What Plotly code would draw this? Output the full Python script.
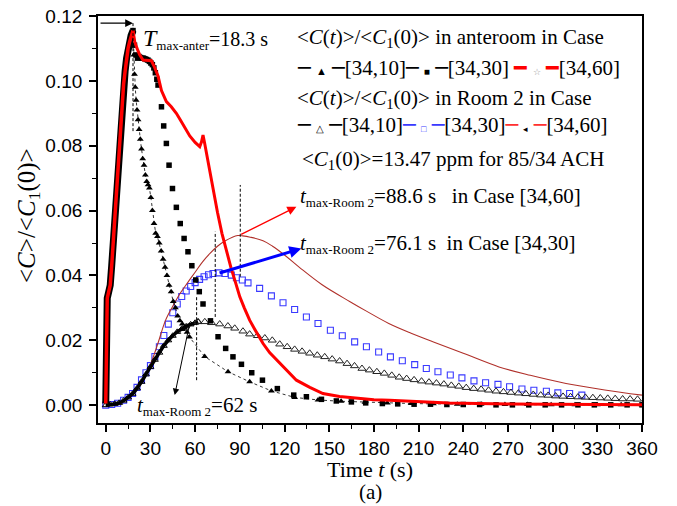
import plotly.graph_objects as go

# ---------------- data ----------------
# common steep rise of the anteroom curves
ante_rise_t = [0, 0.3, 0.6, 1.0, 2.0, 3.0, 4.0, 5.0, 6.0, 7.0, 8.0, 9.0, 10, 11, 12, 13, 14, 15, 16, 17, 18.3]
ante_rise_c = [0.0005, 0.012, 0.028, 0.033, 0.035, 0.037, 0.043, 0.050, 0.058, 0.067, 0.075, 0.082,
               0.088, 0.094, 0.099, 0.103, 0.107, 0.110, 0.112, 0.114, 0.1155]

# anteroom, case [34,10] (filled triangles) after the peak
ante10_t = [18.3, 18.8, 19.3, 19.8, 20.4, 21.0, 21.7, 22.4, 23.2, 24.0, 24.8, 25.7, 26.6, 27.5, 28.4,
            29.3, 30.3, 31.3, 32.4, 33.5, 34.7, 35.9, 37.2, 38.5, 39.8, 41.1, 42.5, 43.9, 45.3, 46.8,
            48.3, 49.8, 51.4, 53.0, 54.6, 56.2, 66.4, 82.1, 96.6, 111.2, 126.8, 142.5, 158, 174, 189,
            205, 220, 236, 252, 268, 283, 299, 315, 330, 346, 360]
ante10_c = [0.1155, 0.108, 0.102, 0.098, 0.094, 0.091, 0.088, 0.085, 0.082, 0.079, 0.076, 0.074, 0.071,
            0.069, 0.068, 0.067, 0.064, 0.060, 0.056, 0.053, 0.052, 0.050, 0.0475, 0.045, 0.0425, 0.040,
            0.037, 0.035, 0.032, 0.030, 0.0275, 0.026, 0.025, 0.0237, 0.0225, 0.021, 0.015, 0.0103,
            0.0072, 0.0044, 0.0024, 0.0016, 0.0012, 0.0009, 0.0007, 0.0005, 0.0004, 0.0003, 0.0003,
            0.0002, 0.0002, 0.0001, 0.0001, 0.0001, 0.0001, 0.0001]

# anteroom, case [34,30] (filled squares) after the peak
ante30_t = [18.3, 19.3, 20.3, 21.3, 22.3, 23.3, 24.3, 25.3, 26.3, 27.3, 28.3, 29.3, 30.3, 31.3, 32.3,
            33.3, 34.3, 35.1, 37.4, 38.9, 40.7, 42.5, 44.8, 47.4, 50.0, 52.6, 55.2, 57.8, 60.4, 62.8,
            65.3, 70.3, 75.4, 80.5, 85.4, 91.1, 98, 105.2, 115.2, 126.2, 134.7, 144.8, 154.8, 164.9,
            174.5, 185.7, 196, 207, 218, 229, 240, 251, 262, 273, 284, 295, 306, 317, 328, 339, 350, 360]
ante30_c = [0.1155, 0.111, 0.108, 0.107, 0.1075, 0.1072, 0.107, 0.107, 0.1068, 0.1066, 0.1064, 0.106,
            0.1055, 0.105, 0.104, 0.1025, 0.1005, 0.0987, 0.092, 0.0861, 0.0807, 0.074, 0.0668, 0.061,
            0.056, 0.0514, 0.0473, 0.043, 0.0386, 0.035, 0.0312, 0.026, 0.0211, 0.0175, 0.0149, 0.0126,
            0.0100, 0.0077, 0.0051, 0.0031, 0.0026, 0.0018, 0.0013, 0.001, 0.0007, 0.0005, 0.0004,
            0.0003, 0.0003, 0.0002, 0.0002, 0.0002, 0.0001, 0.0001, 0.0001, 0.0001, 0.0001, 0.0001,
            0.0001, 0.0001, 0.0001, 0.0001]

# anteroom, case [34,60] (thick red line) after the peak
ante60_t = [18.3, 19.5, 21, 22.8, 25, 27, 29, 30.7, 32.5, 35.1, 37.4, 40.7, 44, 47.4, 50, 53, 56.4, 60,
            63.1, 64.3, 65.3, 66.3, 67.6, 69.8, 72, 75, 78, 81, 84, 87, 90, 93, 96.6, 100, 105.6, 110,
            116.8, 122, 128, 137, 145.8, 157, 168.2, 180, 190.6, 210, 230, 260, 290, 320, 360]
ante60_c = [0.1155, 0.112, 0.110, 0.108, 0.1064, 0.1064, 0.1064, 0.1062, 0.1045, 0.1015, 0.097, 0.0936,
            0.092, 0.090, 0.088, 0.0855, 0.083, 0.081, 0.0797, 0.0812, 0.0833, 0.081, 0.0776, 0.0725,
            0.067, 0.0595, 0.053, 0.0475, 0.0425, 0.038, 0.0334, 0.0300, 0.0262, 0.0234, 0.019, 0.0162,
            0.0129, 0.0105, 0.0077, 0.0055, 0.0036, 0.0027, 0.0021, 0.0017, 0.0015, 0.001, 0.0007,
            0.0004, 0.0003, 0.0002, 0.0001]

# Room 2, case [34,10] (open triangles): dense rise, then sparse decay
room10_rise_t = [0, 3, 6, 9, 12, 15, 18, 21, 24, 27, 30, 33, 36, 39, 42, 45, 48, 51, 54, 57, 60, 62]
room10_rise_c = [0, 0.0002, 0.0004, 0.0007, 0.0014, 0.0024, 0.0035, 0.0052, 0.0072, 0.0095, 0.0118,
                 0.0140, 0.0162, 0.0183, 0.0200, 0.0214, 0.0226, 0.0235, 0.0243, 0.0249, 0.0254, 0.0257]
room10_t = [62, 66.5, 71, 76.5, 82, 86.6, 92.1, 96.6, 101.8, 106.8, 111.8, 116.8, 121.8, 126.8, 131.8,
            136.9, 142, 147, 152, 157, 162, 167, 172, 177, 182, 187, 192, 197, 202, 207, 212, 217, 222,
            227, 232, 237, 242, 247, 252, 257, 262, 267, 272, 277, 282, 287, 292, 297, 302, 307, 312,
            317, 322, 327, 332, 337, 342, 347, 352, 357]
room10_c = [0.0257, 0.0257, 0.0254, 0.025, 0.0244, 0.0237, 0.0228, 0.0219, 0.0214, 0.0207, 0.0200,
            0.0188, 0.0180, 0.0172, 0.0166, 0.0160, 0.0154, 0.0149, 0.0142, 0.0136, 0.0128, 0.0121,
            0.0113, 0.0108, 0.0103, 0.0098, 0.0092, 0.0086, 0.0082, 0.0078, 0.0074, 0.0071, 0.0068,
            0.0065, 0.0061, 0.0058, 0.0054, 0.0051, 0.0049, 0.0046, 0.0043, 0.0041, 0.0039, 0.0037,
            0.0035, 0.0033, 0.0031, 0.0030, 0.0028, 0.0027, 0.0026, 0.0025, 0.0024, 0.0023, 0.0022,
            0.0021, 0.0020, 0.0019, 0.0019, 0.0018]

# Room 2, case [34,30] (open blue squares)
room30_t = [0, 4, 8, 12, 15, 18, 21, 24, 27, 30, 33, 36, 39, 42, 45, 48, 51, 54, 57, 60, 63, 66, 69, 72,
            76, 80, 84.3, 87.7, 91.7, 95.5, 103.3, 111.2, 119, 126.8, 134.7, 142.5, 150.8, 158.8, 167.1,
            175, 183.2, 191.1, 199.1, 207.4, 215.2, 223, 231.3, 239.1, 247.2, 255, 263.3, 271.1, 279.4,
            287.4, 295.8, 303.5, 311.4, 319.6]
room30_c = [0, 0.0002, 0.0006, 0.0015, 0.0024, 0.0036, 0.0055, 0.0078, 0.0100, 0.0122, 0.0150, 0.0180,
            0.0215, 0.0250, 0.0285, 0.0312, 0.0335, 0.0352, 0.0366, 0.0378, 0.0388, 0.0396, 0.0402,
            0.0406, 0.0408, 0.0406, 0.0401, 0.0393, 0.0386, 0.0377, 0.036, 0.0337, 0.0316, 0.0295,
            0.0272, 0.0252, 0.0231, 0.0214, 0.0195, 0.018, 0.0164, 0.0149, 0.0137, 0.0125, 0.0113,
            0.0103, 0.0093, 0.0084, 0.0075, 0.0069, 0.0064, 0.0057, 0.0050, 0.0046, 0.0043, 0.0038,
            0.0036, 0.0031]

# Room 2, case [34,60] (thin dark-red line)
room60_t = [0, 5, 10, 15, 20, 25, 30, 35, 40, 45, 50, 55, 60, 65, 70, 75, 80, 85, 88.6, 92, 97, 105.6,
            112, 120, 130, 145, 164, 175, 190, 205, 220, 240, 264, 285, 309, 335, 360]
room60_c = [0, 0.0002, 0.0007, 0.002, 0.0045, 0.0075, 0.0125, 0.019, 0.026, 0.0305, 0.0345, 0.0378,
            0.041, 0.0442, 0.0468, 0.0490, 0.0506, 0.0518, 0.0523, 0.0522, 0.0518, 0.0507, 0.0490,
            0.0463, 0.0425, 0.0372, 0.0319, 0.0290, 0.0252, 0.0222, 0.0195, 0.0160, 0.0118, 0.0092,
            0.0067, 0.0047, 0.0031]

x_ticks = [0, 30, 60, 90, 120, 150, 180, 210, 240, 270, 300, 330, 360]
y_ticks = [0.00, 0.02, 0.04, 0.06, 0.08, 0.10, 0.12]
y_tick_labels = ["0.00", "0.02", "0.04", "0.06", "0.08", "0.10", "0.12"]

t_peak_ante = 18.3

# ---------------- figure ----------------
W, H = 677, 506
L, R, T, B = 98, 35, 16, 83
PW, PH = W - L - R, H - T - B

def px(x):
    return (x - L) / PW

def py(y):
    return (H - B - y) / PH

SERIF = "Liberation Serif, Times New Roman, serif"
SANS = "Liberation Sans, Arial, sans-serif"
BLUE = "#3a3aff"
DRED = "#b0302a"

fig = go.Figure()

# Room 2 curves (underneath)
fig.add_trace(go.Scatter(x=room30_t, y=room30_c, mode="markers",
                         marker=dict(symbol="square-open", size=6, color=BLUE, line=dict(width=1.1, color=BLUE)),
                         showlegend=False))
fig.add_trace(go.Scatter(x=room60_t, y=room60_c, mode="lines", line=dict(color=DRED, width=1.1, shape="spline"),
                         showlegend=False))
fig.add_trace(go.Scatter(x=room10_rise_t, y=room10_rise_c, mode="lines+markers",
                         line=dict(color="black", width=3.5, shape="spline"),
                         marker=dict(symbol="triangle-up-open", size=6, color="black", line=dict(width=1)),
                         showlegend=False))
fig.add_trace(go.Scatter(x=room10_t, y=room10_c, mode="markers",
                         marker=dict(symbol="triangle-up-open", size=7, color="#222", line=dict(width=1)),
                         showlegend=False))

# anteroom curves
fig.add_trace(go.Scatter(x=ante_rise_t, y=ante_rise_c, mode="lines", line=dict(color="black", width=7),
                         showlegend=False))
fig.add_trace(go.Scatter(x=ante10_t, y=ante10_c, mode="lines+markers",
                         line=dict(color="black", width=0.8, dash="dot"),
                         marker=dict(symbol="triangle-up", size=6, color="black"),
                         showlegend=False))
fig.add_trace(go.Scatter(x=ante30_t, y=ante30_c, mode="markers",
                         marker=dict(symbol="square", size=5.5, color="black"),
                         showlegend=False))
fig.add_trace(go.Scatter(x=ante_rise_t, y=ante_rise_c, mode="lines", line=dict(color="#ff0000", width=3.5),
                         showlegend=False))
fig.add_trace(go.Scatter(x=ante60_t, y=ante60_c, mode="lines", line=dict(color="#ff0000", width=3),
                         showlegend=False))

# dashed guide lines
dash = dict(color="black", width=1, dash="3px,2px")
shapes = [
    dict(type="line", xref="x", yref="y", x0=t_peak_ante, x1=t_peak_ante, y0=0.0845, y1=0.1178, line=dash),
    dict(type="line", xref="x", yref="y", x0=61, x1=61, y0=0.0077, y1=0.0339, line=dash),
    dict(type="line", xref="x", yref="y", x0=73.5, x1=73.5, y0=0.0272, y1=0.0535, line=dash),
    dict(type="line", xref="x", yref="y", x0=90.3, x1=90.3, y0=0.0396, y1=0.0679, line=dash),
]

ann = []

def arrow(x0, y0, x1, y1, color, width, head=2, size=1.0):
    ann.append(dict(x=x1, y=y1, ax=x0, ay=y0, xref="x", yref="y", axref="x", ayref="y", text="",
                    showarrow=True, arrowhead=head, arrowsize=size, arrowwidth=width, arrowcolor=color))

arrow(-4.5, 0.1178, t_peak_ante, 0.1178, "black", 1.2, head=2, size=1.3)
arrow(89.9, 0.0524, 128, 0.0612, "#ff0000", 1.4, head=2, size=1.3)
arrow(75.4, 0.0406, 131.3, 0.0483, "#0000ff", 3, head=2, size=0.8)
arrow(56.4, 0.0253, 46.3, 0.0031, "black", 1, head=2, size=1.3)

def text(x, y, s, size=20, anchor="left", yanchor="middle", angle=0, family=SERIF):
    ann.append(dict(x=px(x), y=py(y), xref="paper", yref="paper", text=s, showarrow=False,
                    xanchor=anchor, yanchor=yanchor, textangle=angle,
                    font=dict(family=family, size=size, color="black")))

def col(s, c, fs=None):
    st = "color:%s" % c + (";font-size:%dpx" % fs if fs else "")
    return '<span style="%s">%s</span>' % (st, s)

D = '<span style="font-family:DejaVu Sans">─</span>'
DB = col('─', BLUE).replace('color:', 'font-family:DejaVu Sans;color:')
DR = col('─', '#ff3030').replace('color:', 'font-family:DejaVu Sans;color:')
S = '&nbsp;'

# legend block
text(295, 38, "&lt;<i>C</i>(<i>t</i>)&gt;/&lt;<i>C</i><sub>1</sub>(0)&gt; in anteroom in Case", size=21)
text(295, 68, D + S + '<span style="font-size:11px">▲</span>' + S + D + '[34,10]' + D +
              S + '<span style="font-size:10px">■</span>' + S + D + '[34,30] ' +
              col('━', '#ff0000') + S + col('☆', '#999999', 9) + S + col('━', '#ff0000') + '[34,60]',
     size=21)
text(295, 99, "&lt;<i>C</i>(<i>t</i>)&gt;/&lt;<i>C</i><sub>1</sub>(0)&gt; in Room 2 in Case", size=21)
text(295, 125, D + S + '<span style="font-size:10px">△</span>' + S + D + '[34,10]' +
               DB + S + col('□', BLUE, 9) + S + DB + '[34,30]' +
               DR + S + col('◂', 'black', 9) + S + DR + '[34,60]',
     size=21)
text(300, 160, "&lt;<i>C</i><sub>1</sub>(0)&gt;=13.47 ppm for 85/34 ACH", size=21)

SUB = '<sub><span style="font-size:13px">%s</span></sub>'
# peak labels
text(141, 39, '<span style="font-size:24px"><i>T</i></span>' + SUB % 'max-anter' + '=18.3 s', size=20)
text(298, 197, "<i>t</i>" + SUB % "max-Room 2" + "=88.6 s&nbsp;&nbsp; in Case [34,60]", size=21)
text(298, 244, "<i>t</i>" + SUB % "max-Room 2" + "=76.1 s&nbsp; in Case [34,30]", size=21)
text(135, 406, "<i>t</i>" + SUB % "max-Room 2" + "=62 s", size=21)

# axis titles and caption
text(370, 469, "Time <i>t</i> (s)", size=22, anchor="center")
text(370, 492, "(a)", size=21, anchor="center")
text(29, 216, "&lt;<i>C</i>&gt;/&lt;<i>C</i><sub>1</sub>(0)&gt;", size=25, anchor="center", angle=-90)

fig.update_layout(
    width=W, height=H,
    margin=dict(l=L, r=R, t=T, b=B, autoexpand=False),
    paper_bgcolor="white", plot_bgcolor="white",
    shapes=shapes, annotations=ann, showlegend=False,
    xaxis=dict(range=[-5.2, 360], tickvals=x_ticks, ticks="outside", ticklen=7, tickwidth=1.5,
               tickcolor="black", showline=True, linewidth=1.8, linecolor="black", mirror=True,
               showgrid=False, zeroline=False, tickfont=dict(family=SANS, size=19, color="black"),
               minor=dict(ticks="outside", ticklen=4, tickwidth=1.3, tickcolor="black", dtick=15, tick0=0,
                          showgrid=False)),
    yaxis=dict(range=[-0.0055, 0.12], tickvals=y_ticks, ticktext=y_tick_labels, ticks="outside", ticklen=7,
               tickwidth=1.5, tickcolor="black", showline=True, linewidth=1.8, linecolor="black", mirror=True,
               showgrid=False, zeroline=False, tickfont=dict(family=SANS, size=19, color="black"),
               ticklabelstandoff=3,
               minor=dict(ticks="outside", ticklen=4, tickwidth=1.3, tickcolor="black", dtick=0.01, tick0=0,
                          showgrid=False)),
)

fig.write_html("out.html", config={"displayModeBar": False},
               post_script="document.body.style.margin='0px';")
